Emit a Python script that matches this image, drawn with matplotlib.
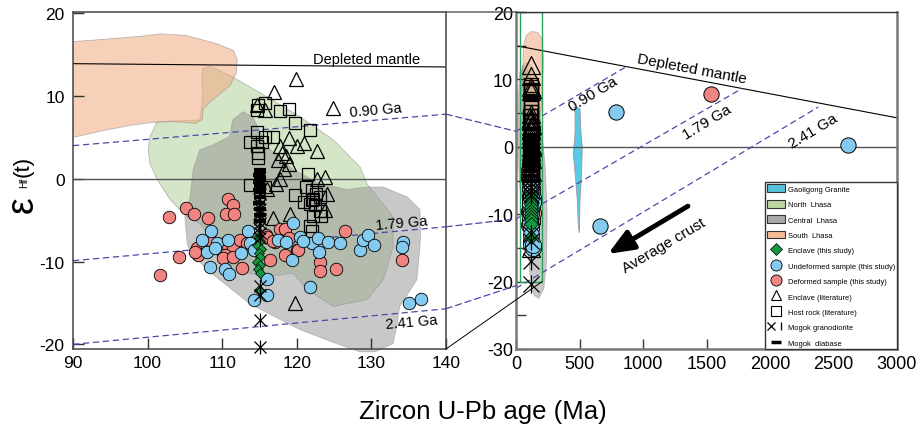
import matplotlib
matplotlib.use("Agg")
import matplotlib.pyplot as plt
from matplotlib.patches import Polygon, Rectangle, Patch, ConnectionPatch
from matplotlib.lines import Line2D
from matplotlib.legend_handler import HandlerTuple

plt.rcParams['font.family'] = ['Liberation Sans', 'DejaVu Sans']
plt.rcParams['axes.unicode_minus'] = False

# ---------------- data (age in Ma, eHf(t)) ----------------
deformed_age = [102.9, 101.6, 104.2, 105.2, 106.2, 108.1, 110.8, 111.4, 110.5, 111.6,
                106.6, 106.8, 106.3, 107.9, 108.6, 109.9, 110.4, 111.5, 112.4, 110.4,
                110.1, 111.5, 112.6, 113.3, 108.4, 115.9, 116.4, 117.1, 117.7, 118.4,
                118.9, 120.0, 118.4, 116.0, 116.8, 120.2, 123.1, 123.1, 125.3, 126.5, 134.1]
deformed_ehf = [-4.6, -11.6, -9.5, -3.5, -4.3, -4.7, -2.5, -3.2, -4.2, -4.3,
                -8.4, -9.2, -8.9, -8.2, -8.2, -8.6, -7.8, -8.2, -7.4, -9.2,
                -9.6, -9.4, -10.8, -7.8, -7.4, -6.8, -9.8, -7.6, -6.1, -6.1,
                -7.2, -8.6, -9.2, -7.0, -7.5, -8.6, -10.1, -11.1, -10.9, -6.3, -9.8]

undeformed_age = [108.5, 107.3, 107.9, 109.3, 108.4, 110.4, 110.9, 110.8, 113.5, 113.7,
                  112.5, 114.3, 116.0, 116.0, 114.2, 117.5, 118.6, 119.5, 119.3, 120.4,
                  122.0, 122.9, 123.0, 124.2, 121.8, 125.8, 128.5, 128.9, 129.6, 130.3,
                  134.3, 134.1, 135.0, 136.6, 109.0, 120.8]
undeformed_ehf = [-6.3, -7.4, -8.8, -7.8, -10.7, -10.9, -11.5, -7.4, -6.3, -7.8,
                  -9.0, -8.6, -12.1, -14.0, -14.6, -7.4, -7.6, -5.3, -9.8, -7.0,
                  -7.7, -7.2, -8.8, -7.6, -13.1, -7.8, -8.6, -7.4, -6.8, -8.0,
                  -7.6, -8.2, -15.0, -14.5, -8.4, -7.5]

# inherited (old) zircons, only inside the right panel range
old_undeformed_age = [786, 661, 2614]
old_undeformed_ehf = [5.1, -11.8, 0.2]
old_deformed_age = [1535]
old_deformed_ehf = [7.9]

enclave_age = [114.8, 115.1, 114.7, 115.2, 114.9, 115.0, 114.6, 115.1, 114.8, 115.0, 114.9]
enclave_ehf = [-7.0, -7.5, -8.0, -8.5, -9.0, -9.5, -10.0, -10.4, -10.9, -11.4, -13.4]

host_lit_age = [114.8, 115.7, 114.6, 117.7, 118.9, 119.8, 121.8, 114.6, 115.7, 116.8,
                113.7, 114.6, 114.8, 114.8, 115.3, 113.7, 115.7, 121.5, 119.8, 121.3,
                122.0, 122.2, 121.8, 123.1, 123.1, 122.0, 122.4, 122.2, 123.3, 121.8,
                122.0, 121.0, 122.6]
host_lit_ehf = [8.9, 9.1, 8.3, 8.2, 8.4, 6.7, 5.9, 5.7, 5.1, 5.1,
                4.5, 3.9, 3.1, 2.5, 4.5, -0.8, -1.0, 0.6, -2.0, -1.0,
                -1.4, -2.4, -3.0, -2.2, -3.9, -2.6, -3.2, -4.5, -4.5, -5.7,
                -6.3, -2.8, -1.8]

enclave_lit_age = [119.9, 116.9, 124.8, 114.7, 115.8, 118.9, 120.0, 120.9, 122.7, 117.7,
                   118.0, 117.5, 118.6, 118.9, 118.3, 117.7, 122.7, 123.8, 124.0, 119.1,
                   123.8, 116.0, 119.8, 116.8, 117.2]
enclave_lit_ehf = [12.1, 10.5, 8.6, 8.9, 8.3, 4.9, 3.9, 4.3, 3.3, 4.0,
                   3.1, 2.3, 2.7, 1.8, 1.2, 0.0, 0.0, 0.2, -1.8, -4.2,
                   -3.8, -1.2, -15.0, -4.7, -0.6]

granodiorite_age = [115.0, 114.9, 115.1, 115.0, 114.9, 115.1, 115.0, 114.9, 115.1, 115.0,
                    115.0, 115.0, 115.0, 115.0]
granodiorite_ehf = [-1.8, -2.4, -3.0, -3.6, -4.2, -4.8, -5.4, -6.0, -6.6, -7.2,
                    -12.9, -14.0, -17.0, -20.3]

diabase_age = [115.0, 115.1, 114.9, 115.0, 115.1, 114.9, 115.0, 115.1, 114.9, 115.0,
               115.0, 114.9, 115.1, 115.0, 115.0]
diabase_ehf = [1.1, 0.8, 0.5, 0.2, -0.1, -0.4, -0.7, -1.0, -1.3, -1.6,
               -2.2, -2.9, -3.6, -4.4, -5.1]

# reference lines: (age, eHf) end points
dm_left = [(90, 13.9), (140, 13.5)]
dm_right = [(0, 15.0), (3000, 4.3)]
crust_left = {'0.90 Ga': [(90, 4.0), (140, 7.8)],
              '1.79 Ga': [(90, -9.9), (140, -5.8)],
              '2.41 Ga': [(90, -20.0), (140, -15.7)]}
crust_right = {'0.90 Ga': [(0, 2.3), (870, 11.9)],
               '1.79 Ga': [(0, -10.7), (1780, 8.65)],
               '2.41 Ga': [(0, -21.0), (2380, 5.9)]}

# fields (age, eHf)
south_lhasa = [(89, 16.5), (93.6, 16.8), (99.0, 17.2), (101.7, 17.5), (105.2, 17.3), (109.3, 16.3),
               (111.5, 15.5), (112.0, 14.4), (111.9, 12.8), (111.0, 11.2), (108.8, 9.6),
               (107.5, 8.5), (107.3, 7.1), (106.4, 6.7), (103.4, 6.9), (100.7, 6.8),
               (98.0, 6.5), (94.5, 5.9), (89, 4.8)]
north_lhasa = [(108.4, 13.6), (111.4, 12.3), (116.0, 9.9), (120.4, 7.5), (124.9, 4.7),
               (128.5, 1.4), (129.4, -0.6), (132.9, -4.6), (132.9, -8.2), (131.6, -12.2),
               (129.4, -14.6), (124.9, -15.4), (121.4, -13.4), (119.5, -11.4), (116.0, -11.8),
               (111.4, -11.0), (109.3, -8.2), (107.0, -5.4), (105.3, -4.6), (103.0, -2.5),
               (101.3, -0.1), (100.3, 1.8), (100.1, 3.5), (100.3, 5.1), (101.3, 6.9),
               (104.3, 7.0), (107.0, 7.1), (107.4, 9.9), (107.3, 11.9), (107.4, 13.3)]
central_lhasa = [(112.8, 8.1), (114.1, 7.5), (116.0, 3.9), (119.5, 1.1), (123.1, -0.6),
                 (126.7, -1.3), (129.4, -1.0), (131.6, -1.0), (134.8, -2.2), (136.5, -3.7),
                 (136.6, -6.4), (136.5, -8.2), (136.1, -12.2), (133.8, -15.4), (133.4, -17.8),
                 (132.9, -19.9), (130.5, -20.9), (128.5, -20.9), (124.4, -19.6), (120.4, -18.2),
                 (113.7, -15.1), (108.0, -11.0), (105.7, -8.8), (105.3, -7.8), (105.0, -4.6),
                 (105.7, -2.2), (106.1, 1.1), (107.0, 3.5), (108.8, 4.1), (111.0, 5.1), (111.4, 7.1)]
south_lhasa_r = [(60, 15), (80, 16.5), (120, 17.1), (170, 17), (205, 16), (215, 13), (210, 9),
                 (195, 5), (150, 3), (100, 3.5), (70, 5), (55, 9), (55, 13)]
north_lhasa_r = [(50, 12), (80, 12.5), (120, 12), (160, 10), (190, 6), (200, 0), (190, -5),
                 (160, -8), (110, -8), (70, -6), (45, -2), (35, 4), (40, 9)]
central_lhasa_r = [(30, 11), (60, 12), (100, 11), (160, 8), (200, 3), (230, -3), (245, -10),
                   (240, -17), (220, -21), (180, -22.5), (140, -22), (110, -19), (90, -14),
                   (60, -9), (30, -6), (15, 0), (15, 6)]
gaoligong = [(457, 5.9), (504, 5.7), (512, 2.0), (522, 0), (517, -3.9), (504, -7.9),
             (499, -12.8), (491, -11.8), (483, -7.9), (465, -3.9), (451, -0.9), (465, 2.0), (465, 5.0)]

C_BLUE = '#84cbef'
C_RED = '#ef8480'
C_GREEN = '#15973f'
DASH = dict(color='#4a4aa8', lw=0.9, ls=(0, (5, 3)))

W, H = 922, 431
fig = plt.figure(figsize=(W / 100, H / 100), dpi=100)
axL = fig.add_axes([73 / W, 1 - 350 / H, 373 / W, 337 / H])
axR = fig.add_axes([516 / W, 1 - 350 / H, 381 / W, 337 / H])


def draw_fields(ax, north, central, south, clip_central=True):
    ax.add_patch(Polygon(north, closed=True, fc='#b3d09a', ec='#8a8a8a', lw=0.6, alpha=0.55, zorder=1))
    ax.add_patch(Polygon(central, closed=True, fc='#929294', ec='#8a8a8a', lw=0.6, alpha=0.5, zorder=1.1,
                         clip_on=clip_central))
    ax.add_patch(Polygon(south, closed=True, fc='#f1aa80', ec='#8a8a8a', lw=0.6, alpha=0.55, zorder=1.2))


def draw_points(ax, big=1.0):
    ax.plot(host_lit_age, host_lit_ehf, ls='none', marker='s', ms=8 * big, mfc='none', mec='k', mew=0.9, zorder=3)
    ax.plot(enclave_lit_age, enclave_lit_ehf, ls='none', marker='^', ms=9.5 * big, mfc='none', mec='k',
            mew=0.9, zorder=3)
    ax.plot(deformed_age, deformed_ehf, ls='none', marker='o', ms=9 * big, mfc=C_RED, mec='k', mew=0.6, zorder=4)
    ax.plot(undeformed_age, undeformed_ehf, ls='none', marker='o', ms=9 * big, mfc=C_BLUE, mec='k', mew=0.6,
            zorder=4)
    ax.plot(enclave_age, enclave_ehf, ls='none', marker='D', ms=5.5 * big, mfc=C_GREEN, mec='k', mew=0.5, zorder=5)
    ax.plot(diabase_age, diabase_ehf, ls='none', marker='_', ms=9 * big, mec='k', mew=3, zorder=6)
    ax.plot(granodiorite_age, granodiorite_ehf, ls='none', marker='x', ms=9 * big, mec='k', mew=0.9, zorder=6,
            clip_on=False)
    ax.plot(granodiorite_age, granodiorite_ehf, ls='none', marker='|', ms=10 * big, mec='k', mew=0.9, zorder=6,
            clip_on=False)


# ---------------- left panel ----------------
draw_fields(axL, north_lhasa, central_lhasa, south_lhasa, clip_central=False)
axL.plot(*zip(*dm_left), color='k', lw=0.8, zorder=2)
axL.axhline(0, color='#555555', lw=1, zorder=2)
for name, pts in crust_left.items():
    axL.plot(*zip(*pts), zorder=2, **DASH)
draw_points(axL)

axL.text(129.3, 14.5, 'Depleted mantle', fontsize=10.5, ha='center', va='center')
axL.text(130.6, 8.3, '0.90 Ga', fontsize=10.5, ha='center', va='center', rotation=5)
axL.text(134.1, -5.3, '1.79 Ga', fontsize=10.5, ha='center', va='center', rotation=5)
axL.text(135.4, -17.3, '2.41 Ga', fontsize=10.5, ha='center', va='center', rotation=5)

axL.set_xlim(90, 140)
axL.set_ylim(-20.56, 20.14)
axL.set_xticks(range(90, 141, 10))
axL.set_yticks([-20, -10, 0, 10, 20])
axL.tick_params(direction='in', length=8, width=1, labelsize=12.5, color='#333333')
axL.tick_params(axis='y', pad=6)
axL.tick_params(axis='x', pad=4)
for s in axL.spines.values():
    s.set_color('#444444')
    s.set_linewidth(1.1)

# ---------------- right panel ----------------
draw_fields(axR, north_lhasa_r, central_lhasa_r, south_lhasa_r)
axR.add_patch(Polygon(gaoligong, closed=True, fc='#5bc8e6', ec='#9a9a9a', lw=0.6, zorder=1.3))
axR.plot(*zip(*dm_right), color='k', lw=0.8, zorder=2)
axR.axhline(0, color='#555555', lw=1, zorder=2)
for name, pts in crust_right.items():
    axR.plot(*zip(*pts), zorder=2, **DASH)
axR.add_patch(Rectangle((30, -20), 175, 40, fill=False, ec='#2ca05a', lw=1, zorder=2.5))
draw_points(axR, big=1.3)
axR.plot(old_undeformed_age, old_undeformed_ehf, ls='none', marker='o', ms=11, mfc=C_BLUE, mec='k', mew=0.7,
         zorder=4)
axR.plot(old_deformed_age, old_deformed_ehf, ls='none', marker='o', ms=11, mfc=C_RED, mec='k', mew=0.7, zorder=4)

axR.text(1386, 11.6, 'Depleted mantle', fontsize=11, ha='center', va='center', rotation=-10.7)
axR.text(606, 7.9, '0.90 Ga', fontsize=11, ha='center', va='center', rotation=31)
axR.text(1504, 3.7, '1.79 Ga', fontsize=11, ha='center', va='center', rotation=31)
axR.text(2339, 2.4, '2.41 Ga', fontsize=11, ha='center', va='center', rotation=31)
axR.text(1165, -14.6, 'Average crust', fontsize=11, ha='center', va='center', rotation=30.6)
axR.annotate('', xy=(724, -15.9), xytext=(1354, -8.8),
             arrowprops=dict(arrowstyle='-|>,head_length=1.1,head_width=0.45', lw=3.5, color='k',
                             mutation_scale=14, shrinkA=0, shrinkB=0))

axR.set_xlim(0, 3000)
axR.set_ylim(-30, 20)
axR.set_xticks(range(0, 3001, 500))
axR.set_yticks(range(-30, 21, 10))
axR.set_yticks(range(-25, 20, 10), minor=True)
axR.tick_params(which='both', direction='in', length=7, width=1, labelsize=13, color='#333333')
axR.tick_params(axis='y', pad=2)
axR.tick_params(axis='x', pad=4)
for side, s in axR.spines.items():
    s.set_color('#777777' if side != 'top' else '#333333')
    s.set_linewidth(1.8 if side != 'top' else 1.0)

# legend
handles = [
    Patch(fc='#56c3db', ec='#333333', lw=0.8),
    Patch(fc='#bcd8a0', ec='#333333', lw=0.8),
    Patch(fc='#a9a9a9', ec='#333333', lw=0.8),
    Patch(fc='#f7b994', ec='#333333', lw=0.8),
    Line2D([], [], ls='none', marker='D', ms=6, mfc=C_GREEN, mec='k', mew=0.5),
    Line2D([], [], ls='none', marker='o', ms=8, mfc=C_BLUE, mec='k', mew=0.6),
    Line2D([], [], ls='none', marker='o', ms=8, mfc=C_RED, mec='k', mew=0.6),
    Line2D([], [], ls='none', marker='^', ms=7, mfc='none', mec='k', mew=0.8),
    Line2D([], [], ls='none', marker='s', ms=6.5, mfc='none', mec='k', mew=0.8),
    (Line2D([], [], ls='none', marker='x', ms=5.5, mec='k', mew=0.9),
     Line2D([], [], ls='none', marker='|', ms=6, mec='k', mew=0.9)),
    Line2D([], [], ls='none', marker='_', ms=7, mec='k', mew=2.5),
]
labels = ['Gaoligong Granite', 'North  Lhasa', 'Central  Lhasa', 'South  Lhasa',
          'Enclave (this study)', 'Undeformed sample (this study)', 'Deformed sample (this study)',
          'Enclave (literature)', 'Host rock (literature)', 'Mogok granodiorite', 'Mogok  diabase']
leg = axR.legend(handles, labels, loc='lower right', bbox_to_anchor=(1, 0), borderaxespad=0,
                 fontsize=5.4, frameon=True, fancybox=False, edgecolor='#333333', framealpha=1,
                 handlelength=2.45, handleheight=1.25, handletextpad=0.3, borderpad=0.3,
                 labelspacing=0.92, handler_map={tuple: HandlerTuple(ndivide=None, pad=0)})
leg.get_frame().set_linewidth(1.0)
leg.set_zorder(10)

# ---------------- connectors between the panels ----------------
def connect(xyA, xyB, coordsA, coordsB, **kw):
    con = ConnectionPatch(xyA=xyA, xyB=xyB, coordsA=coordsA, coordsB=coordsB, **kw)
    fig.add_artist(con)


connect((1, 1), (0, 1), axL.transAxes, axR.transAxes, color='#555555', lw=1)
connect((1, 0), (205, -20), axL.transAxes, axR.transData, color='k', lw=0.7)
connect((140, 7.8), (0, 2.3), axL.transData, axR.transData, **DASH)
connect((140, -5.8), (0, -10.7), axL.transData, axR.transData, **DASH)
connect((140, -15.7), (0, -20.6), axL.transData, axR.transData, **DASH)

# ---------------- axis titles ----------------
fig.text(483 / W, 1 - 412 / H, 'Zircon U-Pb age (Ma)', fontsize=18.5, ha='center', va='center')
fig.text(23 / W, 1 - 205 / H, 'ε', fontsize=27, rotation=90, ha='center', va='center')
fig.text(24 / W, 1 - 183 / H, 'Hf', fontsize=7.5, rotation=90, ha='center', va='center')
fig.text(23 / W, 1 - 166 / H, '(t)', fontsize=16, rotation=90, ha='center', va='center')

fig.savefig('out.png', dpi=100)
